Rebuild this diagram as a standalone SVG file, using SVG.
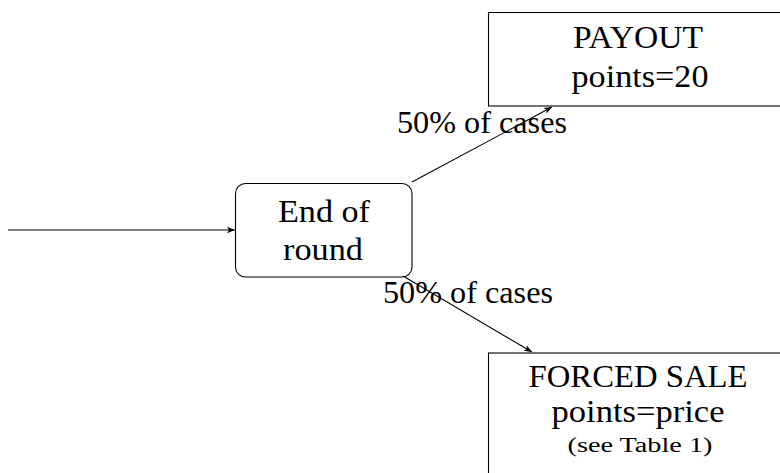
<svg xmlns="http://www.w3.org/2000/svg" width="780" height="473" viewBox="0 0 780 473">
<style>
.box{fill:#fff;stroke:#000;stroke-width:1.1}
text{font-family:'Liberation Serif','Times New Roman','DejaVu Serif',serif;font-size:31px;fill:#000;text-anchor:middle}
.s{font-size:20px}
.c{stroke:#000;stroke-width:1.1;fill:none;marker-end:url(#ah)}
</style>
<defs>
<marker id="ah" viewBox="0 0 10 10" refX="10" refY="5" markerWidth="8" markerHeight="8" markerUnits="userSpaceOnUse" orient="auto">
<path d="M0,1 L10,5 L0,9 L2.5,5 Z" fill="#000"/>
</marker>
</defs>
<g id="end">
<rect class="box" x="235.5" y="183.5" width="176.5" height="93.5" rx="10"/>
<text x="324" y="222" textLength="92" lengthAdjust="spacingAndGlyphs">End of</text>
<text x="323" y="260" textLength="80" lengthAdjust="spacingAndGlyphs">round</text>
</g>
<g id="payout">
<rect class="box" x="488.5" y="12.5" width="300" height="93.5"/>
<text x="638" y="48" textLength="130" lengthAdjust="spacingAndGlyphs">PAYOUT</text>
<text x="640" y="87" textLength="137" lengthAdjust="spacingAndGlyphs">points=20</text>
</g>
<g id="forced">
<rect class="box" x="488.5" y="353" width="300" height="130"/>
<text x="638" y="387" textLength="219" lengthAdjust="spacingAndGlyphs">FORCED SALE</text>
<text x="638" y="422" textLength="173" lengthAdjust="spacingAndGlyphs">points=price</text>
<text class="s" x="640" y="452" textLength="145" lengthAdjust="spacingAndGlyphs">(see Table 1)</text>
</g>
<g id="connectors">
<line class="c" x1="8" y1="230" x2="235" y2="230"/>
<line class="c" x1="412" y1="182" x2="552" y2="107"/>
<line class="c" x1="403" y1="276" x2="532" y2="352"/>
<text x="482" y="133" textLength="170" lengthAdjust="spacingAndGlyphs">50% of cases</text>
<text x="468" y="303" textLength="170" lengthAdjust="spacingAndGlyphs">50% of cases</text>
</g>
</svg>
